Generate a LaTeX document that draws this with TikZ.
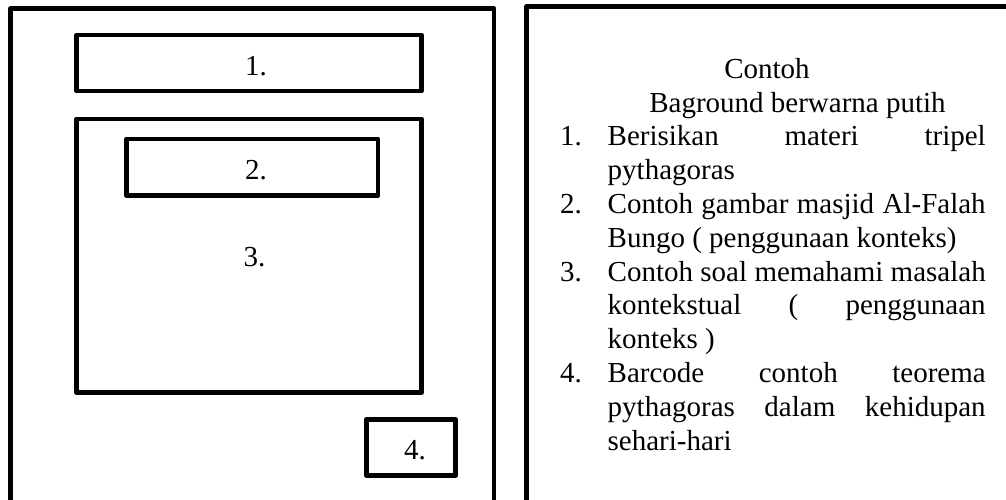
\documentclass[tikz,border=0pt]{standalone}
\usepackage{fontspec}
\setmainfont{Liberation Serif}
\begin{document}
\begin{tikzpicture}[x=1pt,y=-1pt,
  frame/.style={draw=black, line width=4.7pt, line join=round},
  txt/.style={anchor=base west, inner sep=0pt, font=\fontsize{29}{33.8}\selectfont},
  ctr/.style={anchor=base, inner sep=0pt, font=\fontsize{29}{33.8}\selectfont}]
\useasboundingbox (0,0) rectangle (1006,499);
\fill[white] (0,0) rectangle (1006,499);
\clip (0,0) rectangle (1006,499);
% left panel (layout sketch)
\draw[frame] (10.5,8.5) rectangle (494,530);
\draw[frame] (76.5,35) rectangle (421.5,91);
\draw[frame] (76.5,119) rectangle (421.5,392.5);
\draw[frame] (126.5,139) rectangle (378,195.5);
\draw[frame] (366.5,419.5) rectangle (455.5,475.5);
\node[txt] (l1) at (245,75) {1.};
\node[txt] (l2) at (245,179.3) {2.};
\node[txt] (l3) at (243.3,266.7) {3.};
\node[txt] (l4) at (404,459.3) {4.};
% right panel (description)
\draw[frame] (526.5,6.5) rectangle (1040,530);
\node[ctr] (t0) at (767,78.3) {Contoh};
\node[ctr] (t1) at (797.5,112.1) {Baground berwarna putih};
\node[txt] (n1) at (560,145.9) {1.};
\node[txt] (a1) at (607.5,145.9) {\makebox[378pt][s]{Berisikan materi tripel}};
\node[txt] (a2) at (607.5,179.7) {pythagoras};
\node[txt] (n2) at (560,213.5) {2.};
\node[txt] (b1) at (607.5,213.5) {\makebox[378pt][s]{Contoh gambar masjid Al-Falah}};
\node[txt] (b2) at (607.5,247.3) {Bungo ( penggunaan konteks)};
\node[txt] (n3) at (560,281.1) {3.};
\node[txt] (c1) at (607.5,281.1) {\makebox[378pt][s]{Contoh soal memahami masalah}};
\node[txt] (c2) at (607.5,314.9) {\makebox[378pt][s]{kontekstual ( penggunaan}};
\node[txt] (c3) at (607.5,348.7) {konteks )};
\node[txt] (n4) at (560,382.5) {4.};
\node[txt] (d1) at (607.5,382.5) {\makebox[378pt][s]{Barcode contoh teorema}};
\node[txt] (d2) at (607.5,416.3) {\makebox[378pt][s]{pythagoras dalam kehidupan}};
\node[txt] (d3) at (607.5,450.1) {sehari-hari};
\end{tikzpicture}
\end{document}
